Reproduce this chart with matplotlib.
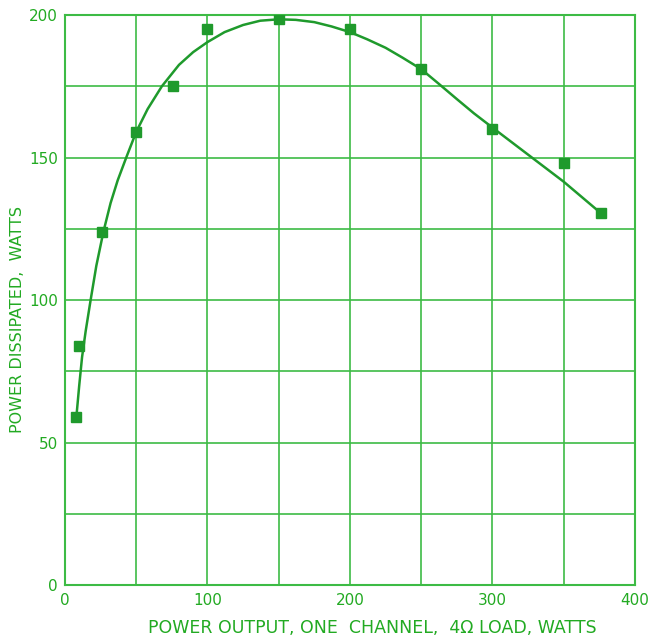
import matplotlib
matplotlib.use("Agg")
import matplotlib.pyplot as plt

# Measured data points (power output W, power dissipated W)
out_w = [8, 10, 26, 50, 76, 100, 150, 200, 250, 300, 350, 376]
diss_w = [59, 84, 124, 159, 175, 195, 198.5, 195, 181, 160, 148, 130.5]

# Smooth fitted curve
curve_x = [8, 10, 12, 14.5, 18, 22, 27, 32, 37, 43, 50, 58, 68, 80, 90, 100,
           112, 125, 137, 150, 162, 175, 187, 200, 212, 225, 237, 250, 262,
           275, 287, 300, 325, 350, 376]
curve_y = [59, 70, 80, 89, 100, 112, 124, 134, 142, 150, 159, 167, 175,
           182.5, 187, 190.5, 194, 196.5, 198, 198.5, 198.3, 197.5, 196, 194,
           191.5, 188.5, 185, 181, 176, 170.5, 165.5, 160.5, 151, 141.5, 130.5]

x_ticks = [0, 100, 200, 300, 400]
y_ticks = [0, 50, 100, 150, 200]

GRID = "#3dbb45"
LINE = "#1f9a2c"
TEXT = "#22aa22"

fig = plt.figure(figsize=(6.53, 6.39), dpi=100)
ax = fig.add_axes([0.0995, 0.0845, 0.8729, 0.892])

ax.set_xlim(0, 400)
ax.set_ylim(0, 200)

for gx in range(50, 400, 50):
    ax.axvline(gx, color=GRID, lw=1.2, zorder=1)
for gy in range(25, 200, 25):
    ax.axhline(gy, color=GRID, lw=1.2, zorder=1)

ax.plot(curve_x, curve_y, color=LINE, lw=1.8, zorder=3,
        solid_capstyle="round", solid_joinstyle="round")
ax.plot(out_w, diss_w, linestyle="none", marker="s", markersize=6.5,
        color=LINE, markeredgecolor=LINE, zorder=4)

for s in ax.spines.values():
    s.set_color(GRID)
    s.set_linewidth(1.5)

ax.set_xticks(x_ticks)
ax.set_yticks(y_ticks)
ax.tick_params(length=0, colors=TEXT, labelsize=11, pad=5)
ax.tick_params(axis="x", pad=6)

ax.set_xlabel("POWER OUTPUT, ONE  CHANNEL,  4\u03a9 LOAD, WATTS",
              color=TEXT, fontsize=12.5, va="center")
ax.xaxis.set_label_coords(0.539, -0.075)
ax.set_ylabel("POWER DISSIPATED,  WATTS", color=TEXT, fontsize=11.5,
              va="center")
ax.yaxis.set_label_coords(-0.0825, 0.465)

fig.savefig("out.png", dpi=100)
